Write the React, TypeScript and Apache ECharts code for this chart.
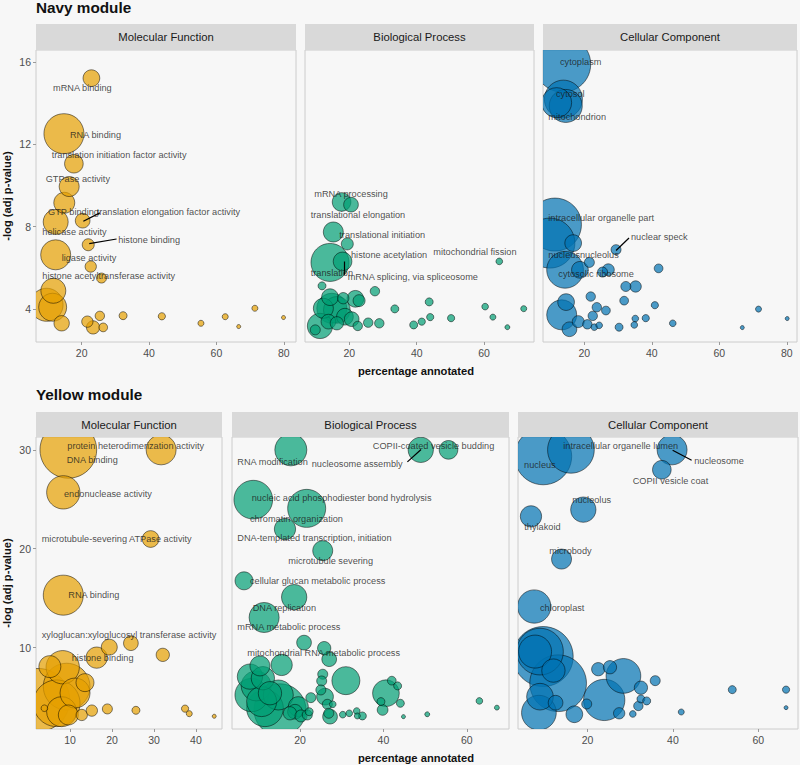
import React, { useEffect, useRef } from "react";
import * as echarts from "echarts";

// ---------- DATA: [percentage annotated, -log(adj p-value), genes] ----------
const navyMF: [number, number, number][] = [
  [22.9, 15.22, 70], [14.75, 12.52, 400], [17.7, 11.06, 87], [16.3, 9.95, 100],
  [14.85, 9.16, 110], [12.3, 8.23, 156], [20.3, 8.29, 54], [12.3, 6.63, 225],
  [21.96, 7.12, 36], [22.7, 6.06, 32], [25.9, 5.5, 25], [11.6, 4.88, 156],
  [9.6, 4.2, 272], [11.4, 4.08, 196], [14.07, 3.3, 59], [21.7, 3.38, 32],
  [23.4, 3.1, 44], [25.4, 3.66, 22], [26.4, 3.1, 19], [32.3, 3.67, 16],
  [43.8, 3.64, 13], [55.4, 3.3, 9], [62.6, 3.62, 9], [66.6, 3.14, 4],
  [71.4, 4.03, 9], [79.9, 3.58, 4],
];
const navyBP: [number, number, number][] = [
  [17.7, 9.2, 87], [20.5, 9.07, 54], [15.25, 7.74, 100], [19.4, 7.16, 36],
  [14.27, 6.26, 361], [18.0, 6.31, 87], [64.5, 6.31, 11], [11.9, 5.12, 16],
  [27.6, 4.86, 22], [14.27, 4.57, 70], [18.2, 4.52, 32], [21.8, 4.49, 70],
  [22.9, 4.4, 36], [12.3, 4.03, 100], [14.8, 4.03, 225], [16.3, 3.95, 178],
  [18.7, 3.62, 70], [20.7, 3.5, 54], [11.3, 3.17, 160], [9.9, 2.98, 25],
  [13.8, 3.38, 54], [16.3, 3.3, 44], [22.5, 3.17, 22], [25.6, 3.33, 22],
  [28.9, 3.3, 22], [33.5, 4.0, 16], [43.7, 4.34, 16], [39.1, 3.22, 16],
  [41.5, 3.38, 13], [44.0, 3.6, 13], [50.2, 3.55, 13], [60.3, 4.11, 11],
  [62.6, 3.6, 9], [66.9, 3.11, 6], [71.75, 4.01, 9],
];
const navyCC: [number, number, number][] = [
  [13.6, 15.9, 784], [13.8, 14.2, 361], [14.5, 13.87, 272], [11.8, 14.03, 225],
  [11.3, 8.1, 702], [9.8, 7.2, 625], [16.7, 7.2, 70], [14.3, 5.9, 337],
  [18.7, 5.9, 70], [29.4, 6.88, 25], [21.5, 6.26, 25], [25.4, 5.79, 25],
  [27.1, 5.9, 36], [42.0, 5.97, 19], [32.3, 5.09, 25], [35.2, 5.09, 32],
  [21.9, 4.6, 22], [31.8, 4.4, 19], [40.9, 4.18, 13], [14.6, 4.33, 70],
  [13.3, 3.71, 225], [23.7, 4.08, 22], [26.4, 3.92, 19], [22.5, 3.66, 22],
  [18.2, 3.38, 36], [20.9, 3.25, 22], [15.6, 3.01, 54], [22.96, 3.11, 11],
  [24.4, 3.2, 11], [30.3, 3.11, 16], [35.1, 3.53, 11], [34.8, 3.22, 11],
  [38.2, 3.55, 13], [46.2, 3.3, 11], [66.8, 3.09, 4], [71.6, 3.99, 9],
  [80.1, 3.53, 4],
];
const yellowMF: [number, number, number][] = [
  [9.6, 30.0, 804], [31.7, 30.0, 225], [8.4, 25.7, 277], [29.2, 20.98, 70],
  [8.4, 15.3, 400], [19.35, 10.04, 64], [24.5, 10.44, 54], [32.1, 9.26, 44],
  [16.35, 8.98, 113], [8.26, 8.01, 277], [5.2, 8.07, 121], [13.57, 6.45, 81],
  [2.45, 4.7, 992], [9.2, 6.05, 545], [6.83, 4.36, 545], [8.0, 3.51, 225],
  [9.6, 3.18, 100], [3.9, 3.86, 11], [12.8, 3.18, 32], [15.2, 3.62, 32],
  [18.9, 3.79, 25], [25.7, 3.65, 16], [37.4, 3.82, 13], [38.4, 3.31, 9],
  [44.35, 3.05, 4], [11.2, 5.4, 225],
];
const yellowBP: [number, number, number][] = [
  [17.8, 30.0, 256], [48.95, 30.0, 160], [55.6, 30.0, 87], [8.8, 24.96, 374],
  [21.6, 24.08, 361], [16.4, 21.99, 113], [25.45, 19.8, 100], [6.58, 16.75, 81],
  [18.6, 15.1, 160], [11.4, 13.04, 225], [20.97, 10.5, 54], [25.8, 9.94, 44],
  [27.0, 8.82, 54], [15.6, 8.24, 113], [10.4, 8.14, 100], [8.0, 7.06, 160],
  [11.1, 6.9, 136], [9.5, 6.12, 225], [8.4, 5.2, 277], [12.8, 5.38, 136],
  [14.8, 5.2, 225], [10.8, 4.53, 225], [11.6, 3.86, 337], [15.2, 3.7, 676],
  [19.6, 4.02, 100], [18.8, 3.51, 54], [20.25, 3.08, 36], [21.75, 3.18, 25],
  [22.2, 3.51, 16], [22.6, 4.93, 25], [25.45, 7.3, 25], [25.2, 6.62, 25],
  [25.0, 5.71, 25], [26.0, 5.03, 70], [31.0, 6.65, 196], [26.55, 4.26, 25],
  [27.85, 4.26, 11], [27.2, 3.01, 54], [26.9, 3.35, 25], [30.25, 3.21, 11],
  [31.8, 3.35, 11], [33.6, 3.58, 11], [33.75, 3.08, 9], [34.95, 3.08, 16],
  [40.6, 5.38, 178], [42.0, 6.65, 19], [43.4, 6.12, 16], [39.4, 4.53, 16],
  [44.06, 4.36, 16], [39.8, 3.69, 29], [44.8, 3.01, 4], [50.5, 3.25, 6],
  [63.0, 4.6, 11], [67.2, 3.92, 6], [17.6, 3.35, 44],
];
const yellowCC: [number, number, number][] = [
  [9.6, 29.35, 812], [16.1, 30.0, 545], [39.8, 30.0, 225], [37.4, 27.99, 87],
  [19.0, 23.95, 160], [6.74, 23.27, 113], [13.9, 18.95, 100], [7.5, 14.15, 277],
  [8.85, 9.59, 545], [9.6, 9.09, 900], [7.7, 9.59, 272], [13.1, 6.39, 804],
  [12.0, 7.67, 136], [8.85, 5.03, 178], [8.6, 3.41, 301], [12.5, 4.42, 54],
  [16.9, 3.25, 70], [19.8, 4.29, 25], [23.9, 4.7, 426], [28.4, 7.13, 301],
  [22.5, 7.81, 44], [25.25, 8.01, 44], [32.5, 5.94, 44], [35.85, 6.65, 25],
  [32.5, 4.8, 16], [33.85, 4.6, 16], [31.9, 4.09, 22], [27.4, 3.35, 32],
  [30.6, 3.28, 11], [41.95, 3.48, 9], [53.9, 5.74, 16], [66.5, 5.74, 13],
  [66.5, 3.92, 4],
];

// ---------- TERM LABELS: [term, x, y] (repelled label anchor, data units) ----------
const navyMFLabels: [string, number, number][] = [
  ["mRNA binding", 11.5, 14.73], ["RNA binding", 16.53, 12.46],
  ["translation initiation factor activity", 11.11, 11.46], ["GTPase activity", 9.33, 10.34],
  ["GTP binding", 10.02, 8.7], ["translation elongation factor activity", 24.45, 8.7],
  ["helicase activity", 8.33, 7.72], ["histone binding", 30.85, 7.37],
  ["ligase activity", 14.07, 6.47], ["histone acetyltransferase activity", 8.33, 5.58],
];
const navyBPLabels: [string, number, number][] = [
  ["mRNA processing", 9.61, 9.61], ["translational elongation", 8.54, 8.55],
  ["translational initiation", 17.03, 7.61], ["histone acetylation", 20.5, 6.63],
  ["mitochondrial fission", 44.92, 6.75], ["translation", 8.54, 5.74],
  ["mRNA splicing, via spliceosome", 19.52, 5.53],
];
const navyCCLabels: [string, number, number][] = [
  ["cytoplasm", 12.8, 16.01], ["cytosol", 11.61, 14.47], ["mitochondrion", 9.33, 13.33],
  ["intracellular organelle part", 9.33, 8.42], ["nuclear speck", 33.83, 7.5],
  ["nucleus", 9.33, 6.63], ["nucleolus", 18.72, 6.63], ["cytosolic ribosome", 12.29, 5.71],
];
const yellowMFLabels: [string, number, number][] = [
  ["protein heterodimerization activity", 9.35, 30.36], ["DNA binding", 9.21, 29.01],
  ["endonuclease activity", 8.57, 25.57], ["microtubule-severing ATPase activity", 3.26, 20.98],
  ["RNA binding", 9.59, 15.27], ["xyloglucan:xyloglucosyl transferase activity", 3.26, 11.28],
  ["histone binding", 10.4, 8.92],
];
const yellowBPLabels: [string, number, number][] = [
  ["RNA modification", 4.97, 28.74], ["COPII-coated vesicle budding", 37.44, 30.36],
  ["nucleosome assembly", 22.81, 28.61], ["nucleic acid phosphodiester bond hydrolysis", 8.42, 25.09],
  ["chromatin organization", 8.02, 23.0], ["DNA-templated transcription, initiation", 4.97, 21.08],
  ["microtubule severing", 17.2, 18.71], ["cellular glucan metabolic process", 8.02, 16.76],
  ["DNA replication", 8.66, 14.05], ["mRNA metabolic process", 4.97, 12.06],
  ["mitochondrial RNA metabolic process", 7.37, 9.43],
];
const yellowCCLabels: [string, number, number][] = [
  ["nucleus", 5.11, 28.48], ["intracellular organelle lumen", 14.31, 30.36],
  ["nucleosome", 44.99, 28.84], ["COPII vesicle coat", 30.56, 26.89],
  ["nucleolus", 16.42, 24.89], ["thylakoid", 5.18, 22.2],
  ["microbody", 11.03, 19.79], ["chloroplast", 8.85, 13.99],
];

// ---------- repel connector segments: [x1, y1, x2, y2] ----------
const navyMFSegs: [number, number, number, number][] = [
  [20.5, 8.26, 25.4, 8.67], [22.25, 7.17, 30.37, 7.4],
];
const navyBPSegs: [number, number, number, number][] = [[18.51, 6.31, 18.51, 5.66]];
const navyCCSegs: [number, number, number, number][] = [[29.39, 6.84, 33.24, 7.45]];
const yellowBPSegs: [number, number, number, number][] = [[45.74, 28.78, 49.02, 30.03]];
const yellowCCSegs: [number, number, number, number][] = [[39.93, 29.96, 44.38, 28.94]];

// ---------- axes ----------
const facets = ["Molecular Function", "Biological Process", "Cellular Component"];
const modules = ["Navy module", "Yellow module"];
const navyXTicks = [[20, 40, 60, 80], [20, 40, 60], [20, 40, 60, 80]];
const yellowXTicks = [[10, 20, 30, 40], [20, 40, 60], [20, 40, 60]];
const navyYTicks = [4, 8, 12, 16];
const yellowYTicks = [10, 20, 30];
const navyXRange = [[6.46, 83.6], [6.85, 74.8], [7.76, 83.0]];
const yellowXRange = [[1.9, 46.2], [3.7, 70.1], [3.7, 69.3]];
const navyYRange = [2.39, 16.59];
const yellowYRange = [1.76, 31.3];

const FONT = "'Liberation Sans', Arial, Helvetica, sans-serif";
const FILLS = ["rgba(230,159,0,0.7)", "rgba(0,158,115,0.7)", "rgba(0,114,178,0.7)"];

export default function App() {
  const ref = useRef<HTMLDivElement>(null);
  useEffect(() => {
    if (!ref.current) return;
    const chart = echarts.init(ref.current, null, { renderer: "svg" });

    const layout = [
      { top: 50, height: 292, boxes: [[36, 260], [305, 229], [543, 254]] },
      { top: 437, height: 292, boxes: [[36, 186], [232, 277], [518, 280]] },
    ];
    const modData = [
      {
        pts: [navyMF, navyBP, navyCC], labels: [navyMFLabels, navyBPLabels, navyCCLabels],
        segs: [navyMFSegs, navyBPSegs, navyCCSegs], xTicks: navyXTicks, yTicks: navyYTicks,
        xRange: navyXRange, yRange: navyYRange,
      },
      {
        pts: [yellowMF, yellowBP, yellowCC], labels: [yellowMFLabels, yellowBPLabels, yellowCCLabels],
        segs: [[], yellowBPSegs, yellowCCSegs], xTicks: yellowXTicks, yTicks: yellowYTicks,
        xRange: yellowXRange, yRange: yellowYRange,
      },
    ];

    const grid: any[] = [];
    const xAxis: any[] = [];
    const yAxis: any[] = [];
    const series: any[] = [];
    const graphic: any[] = [];

    modData.forEach((m, mi) => {
      const L = layout[mi];
      graphic.push({
        type: "text", x: 36, y: mi === 0 ? 7 : 394,
        style: { text: modules[mi], font: `bold 15.3px ${FONT}`, fill: "#111", align: "left", verticalAlign: "middle" },
      });
      graphic.push({
        type: "text", x: 7, y: L.top + L.height / 2, rotation: Math.PI / 2,
        style: { text: "-log (adj p-value)", font: `bold 11.2px ${FONT}`, fill: "#111", align: "center", verticalAlign: "middle" },
      });
      graphic.push({
        type: "text", x: 416, y: L.top + L.height + 29,
        style: { text: "percentage annotated", font: `bold 11.2px ${FONT}`, fill: "#111", align: "center", verticalAlign: "middle" },
      });
      for (let f = 0; f < 3; f++) {
        const gi = mi * 3 + f;
        const [left, width] = L.boxes[f];
        const stripH = mi === 0 ? 26 : 25;
        graphic.push({
          type: "rect", shape: { x: left, y: L.top - stripH, width, height: stripH },
          style: { fill: "#d9d9d9" }, z: 0,
        });
        graphic.push({
          type: "text", x: left + width / 2, y: L.top - stripH / 2,
          style: { text: facets[f], font: `11.3px ${FONT}`, fill: "#1a1a1a", align: "center", verticalAlign: "middle" },
        });
        grid.push({
          left, top: L.top, width, height: L.height, show: true,
          backgroundColor: "#f7f7f7", borderColor: "#cccccc", borderWidth: 1,
          containLabel: false, outerBoundsMode: "none",
        });
        xAxis.push({
          type: "value", gridIndex: gi, min: m.xRange[f][0], max: m.xRange[f][1],
          axisLine: { show: false }, splitLine: { show: false },
          axisTick: { show: true, customValues: m.xTicks[f], length: 3, lineStyle: { color: "#9a9a9a" } },
          axisLabel: { customValues: m.xTicks[f], color: "#4d4d4d", fontSize: 10.5, fontFamily: FONT, margin: 5 },
        });
        yAxis.push({
          type: "value", gridIndex: gi, min: m.yRange[0], max: m.yRange[1],
          axisLine: { show: false }, splitLine: { show: false },
          axisTick: { show: f === 0, customValues: m.yTicks, length: 3, lineStyle: { color: "#9a9a9a" } },
          axisLabel: { show: f === 0, customValues: m.yTicks, color: "#4d4d4d", fontSize: 10.5, fontFamily: FONT, margin: 5 },
        });
        const pts = [...m.pts[f]].sort((a, b) => b[2] - a[2]);
        const fill = FILLS[f];
        series.push({
          type: "custom", xAxisIndex: gi, yAxisIndex: gi, data: pts, clip: true,
          encode: { x: 0, y: 1 },
          renderItem: (_p: any, api: any) => {
            const c = api.coord([api.value(0), api.value(1)]);
            return {
              type: "circle",
              shape: { cx: c[0], cy: c[1], r: Math.sqrt(api.value(2)) },
              style: { fill, stroke: "rgba(0,0,0,0.7)", lineWidth: 0.7 },
            };
          },
          silent: true, z: 2,
        });
        if (m.segs[f].length) {
          series.push({
            type: "lines", coordinateSystem: "cartesian2d", xAxisIndex: gi, yAxisIndex: gi,
            data: m.segs[f].map((s) => ({ coords: [[s[0], s[1]], [s[2], s[3]]] })),
            lineStyle: { color: "#000", width: 1.2, opacity: 1 }, silent: true, z: 3,
          });
        }
        series.push({
          type: "scatter", xAxisIndex: gi, yAxisIndex: gi, clip: false, silent: true, z: 4,
          symbolSize: 0.01,
          data: m.labels[f].map(([t, x, y]) => ({ name: t, value: [x, y] })),
          label: {
            show: true, position: "right", distance: 0, formatter: "{b}",
            fontSize: 9.2, fontFamily: FONT, color: "#1a1a1a",
          },
          labelLayout: { hideOverlap: false },
        });
      }
    });

    chart.setOption({
      animation: false,
      backgroundColor: "#f7f7f7",
      grid, xAxis, yAxis, series, graphic,
    });
    return () => chart.dispose();
  }, []);
  return (
    <div
      ref={ref}
      style={{ position: "fixed", left: 0, top: 0, width: 800, height: 765 }}
    />
  );
}
